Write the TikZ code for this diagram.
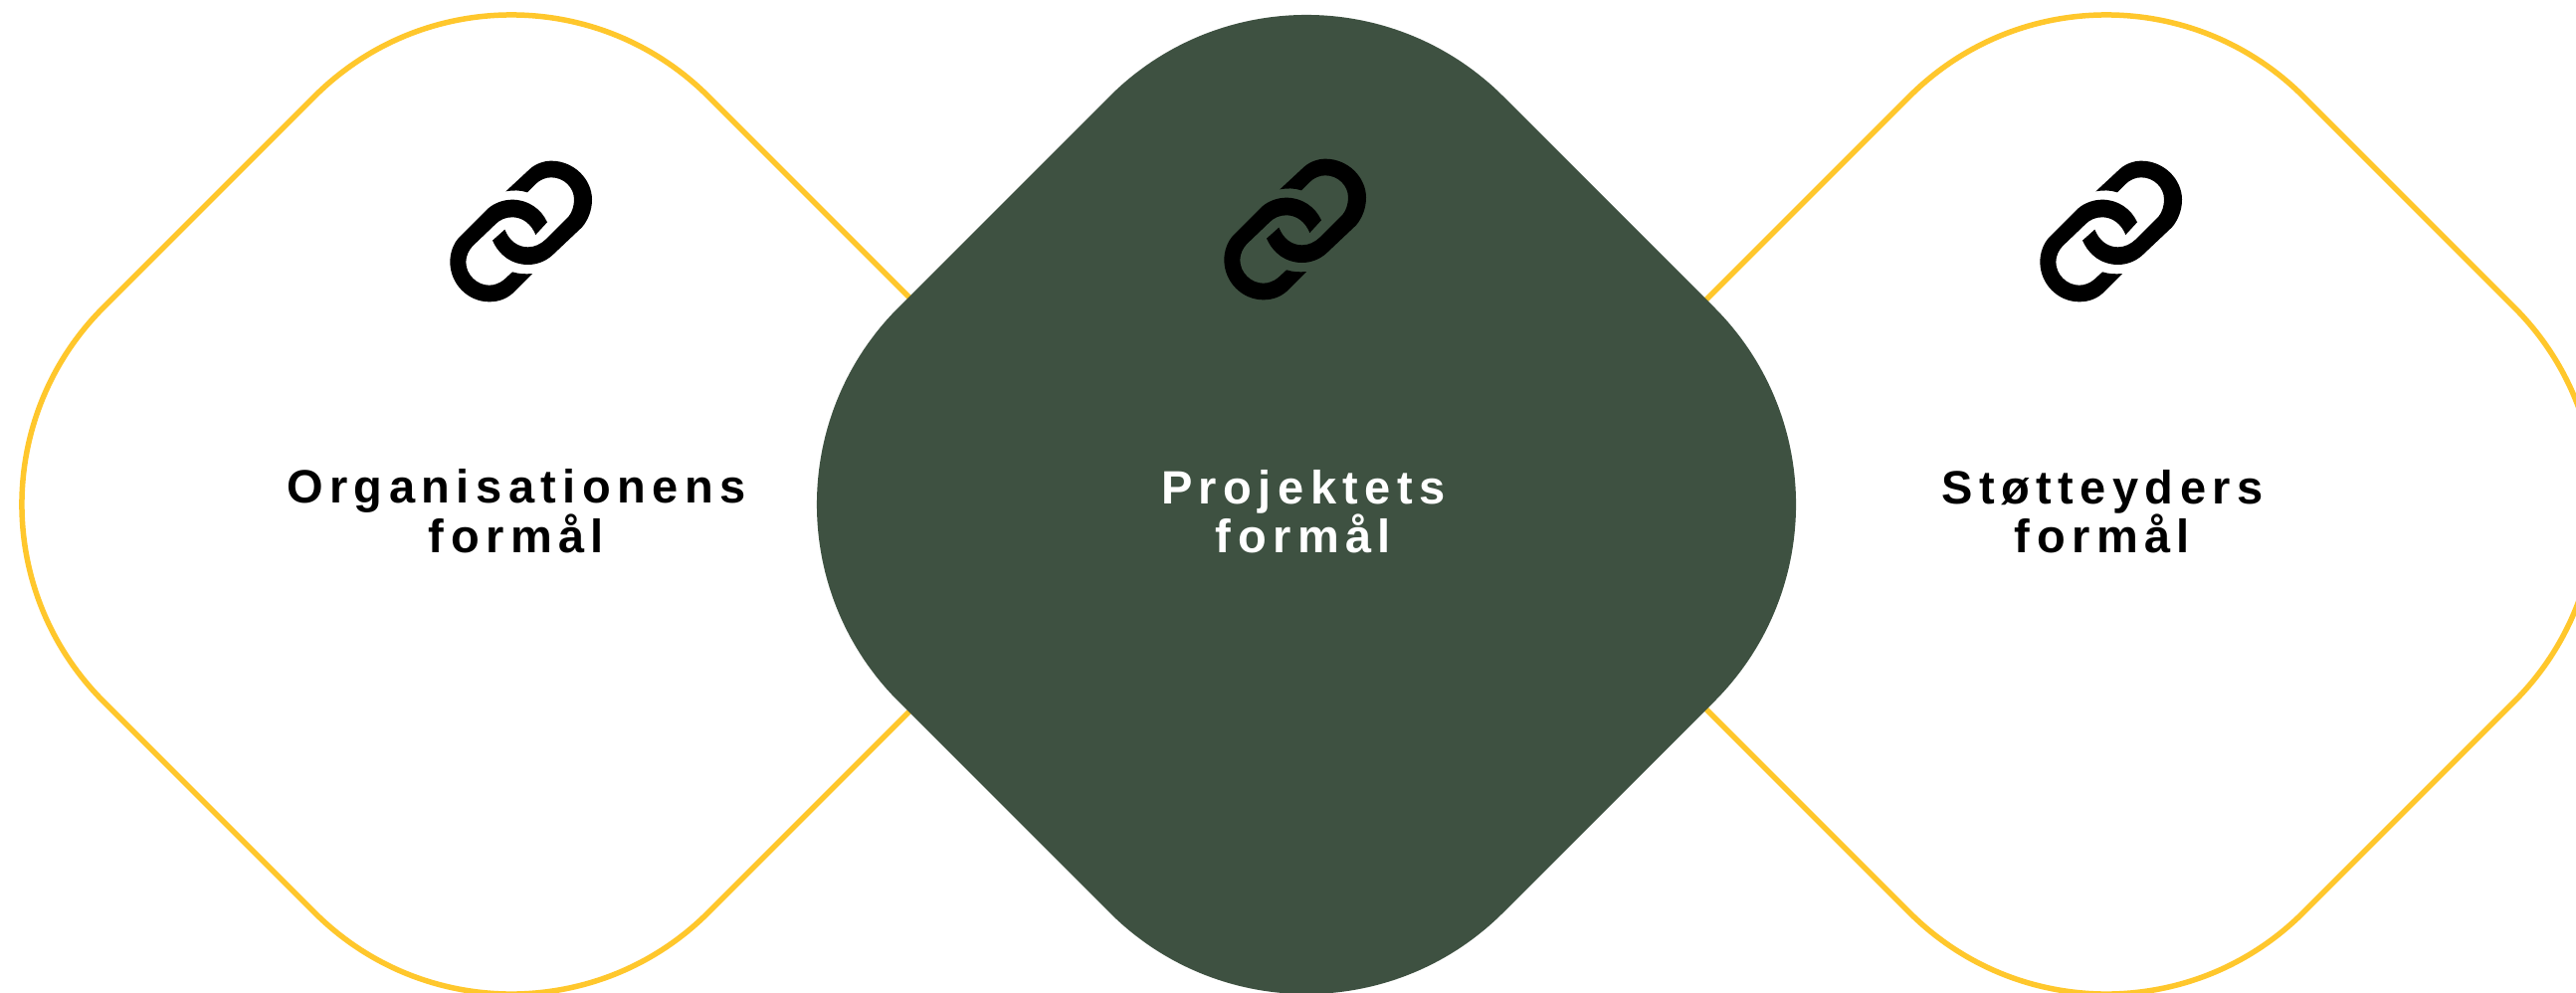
\documentclass[tikz,border=0pt]{standalone}
\usepackage{fontspec}
\setmainfont{Liberation Sans}[BoldFont={Liberation Sans Bold}]
\newfontfamily\labelfont{Liberation Sans Bold}[LetterSpace=13.8]
\definecolor{ringyellow}{HTML}{FFC72C}
\definecolor{forest}{HTML}{3E5141}
\tikzset{
  ring/.style={draw=ringyellow,line width=5.5pt,fill=white},
  solidring/.style={fill=forest},
  linkicon/.style={fill=black},
  caption/.style={align=center,inner sep=0pt,font=\labelfont\fontsize{47}{46}\selectfont},
  pics/softdiamond/.style={code={
    \path[#1] (-198,-410) .. controls (-88.6,-519.4) and (88.6,-519.4) .. (198,-410)
      -- (410,-198) .. controls (519.4,-88.6) and (519.4,88.6) .. (410,198)
      -- (198,410) .. controls (88.6,519.4) and (-88.6,519.4) .. (-198,410)
      -- (-410,198) .. controls (-519.4,88.6) and (-519.4,-88.6) .. (-410,-198) -- cycle;
  }},
  pics/chain/.style={code={
    \fill[linkicon] (265,157) -- (335,92) .. controls (352,75) and (378,65) .. (402,65)
      .. controls (470,65) and (525,120) .. (525,182) .. controls (525,215) and (512,245) .. (495,265)
      -- (405,350) .. controls (385,368) and (358,378) .. (332,378) .. controls (283,378) and (245,350) .. (225,305)
      -- (262,272) .. controls (275,305) and (300,325) .. (332,325) .. controls (352,325) and (372,315) .. (385,302)
      -- (455,232) .. controls (465,220) and (471,200) .. (471,182) .. controls (471,145) and (440,115) .. (402,115)
      .. controls (385,115) and (368,122) .. (355,135) -- (330,160) .. controls (310,153) and (285,153) .. (265,157) -- cycle;
    \fill[linkicon] (345,405) -- (285,465) .. controls (268,480) and (245,490) .. (215,490)
      .. controls (150,490) and (97,435) .. (97,370) .. controls (97,340) and (108,313) .. (125,295)
      -- (210,210) .. controls (230,192) and (258,182) .. (285,182) .. controls (332,182) and (372,210) .. (390,250)
      -- (355,288) .. controls (342,255) and (315,235) .. (285,235) .. controls (265,235) and (248,242) .. (235,255)
      -- (165,322) .. controls (153,335) and (145,352) .. (145,370) .. controls (145,408) and (178,440) .. (215,440)
      .. controls (232,440) and (248,433) .. (260,423) -- (285,400) .. controls (305,406) and (325,407) .. (345,405) -- cycle;
  }}
}
\begin{document}
\begin{tikzpicture}[x=1pt,y=-1pt]
\useasboundingbox (0,0) rectangle (2589,998);
\pic at (514,507) {softdiamond=ring};
\pic at (2117,507) {softdiamond=ring};
\pic at (1313,507) {softdiamond=solidring};
\pic[scale=1/3] at (420,140) {chain};
\pic[scale=1/3] at (1198,138) {chain};
\pic[scale=1/3] at (2018,140) {chain};
\node[caption] (org) at (519,514) {Organisationens\\formål};
\node[caption,text=white] (prj) at (1310,514) {Projektets\\formål};
\node[caption] (sto) at (2113,514) {Støtteyders\\formål};
\end{tikzpicture}
\end{document}
